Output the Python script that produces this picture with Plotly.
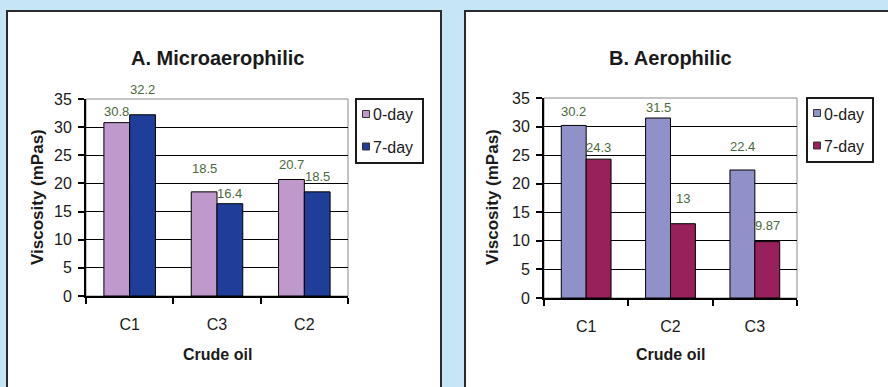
import plotly.graph_objects as go

# Viscosity of crude oils after 0 and 7 days of incubation
micro_oils = ["C1", "C3", "C2"]
micro_day0 = [30.8, 18.5, 20.7]
micro_day7 = [32.2, 16.4, 18.5]

aero_oils = ["C1", "C2", "C3"]
aero_day0 = [30.2, 31.5, 22.4]
aero_day7 = [24.3, 13, 9.87]

series_names = ["0-day", "7-day"]
y_ticks = [0, 5, 10, 15, 20, 25, 30, 35]

FONT = "Liberation Sans, Arial, sans-serif"
PAGE_BG = "#c6e5f5"
PLOT_BG = "#d4e9c6"
LABEL_COLOR = "#4a6a3c"
TEXT = "#1a1a1a"
BARGAP = 0.41
W, H = 888, 387


def px(x):
    return x / W


def py(y):
    return 1 - y / H


panels = [
    dict(title="A. Microaerophilic", oils=micro_oils, d0=micro_day0, d7=micro_day7,
         colors=["#bf98cc", "#1f3e9a"], xdom=[px(86), px(348)], ydom=[py(296), py(99)],
         lift0=[11, 23, 15], lift7=[25, 10, 15], legbox=(356, 423, 99, 163), ytitle_x=px(37)),
    dict(title="B. Aerophilic", oils=aero_oils, d0=aero_day0, d7=aero_day7,
         colors=["#9191c9", "#98205b"], xdom=[px(544), px(797)], ydom=[py(298), py(98)],
         lift0=[14, 10, 23], lift7=[12, 25, 16], legbox=(807, 873, 98, 162), ytitle_x=px(492)),
]

fig = go.Figure()
annotations = []
shapes = [
    # white chart cards
    dict(type="rect", xref="paper", yref="paper", x0=px(7), x1=px(441), y0=-0.2, y1=py(11),
         fillcolor="white", line=dict(color="#2b2b2b", width=2), layer="below"),
    dict(type="rect", xref="paper", yref="paper", x0=px(465), x1=1.2, y0=-0.2, y1=py(11),
         fillcolor="white", line=dict(color="#2b2b2b", width=2), layer="below"),
]

for k, p in enumerate(panels, start=1):
    xa = "x" if k == 1 else f"x{k}"
    ya = "y" if k == 1 else f"y{k}"
    for name, vals, color in zip(series_names, (p["d0"], p["d7"]), p["colors"]):
        fig.add_trace(go.Bar(x=p["oils"], y=vals, name=name, showlegend=False,
                             marker=dict(color=color, line=dict(color="black", width=1)),
                             xaxis=xa, yaxis=ya))

    # value labels above each bar
    half = (1 - BARGAP) / 4
    for i in range(len(p["oils"])):
        for val, shift, lift in ((p["d0"][i], -half, p["lift0"][i]), (p["d7"][i], half, p["lift7"][i])):
            annotations.append(dict(x=i + shift, y=val, xref=xa, yref=ya, text=f"{val:g}", showarrow=False,
                                    xanchor="center", yanchor="middle", yshift=lift,
                                    font=dict(family=FONT, size=13, color=LABEL_COLOR)))

    xmid = (p["xdom"][0] + p["xdom"][1]) / 2
    annotations.append(dict(x=xmid, y=py(58), xref="paper", yref="paper", text=f"<b>{p['title']}</b>",
                            xanchor="center", yanchor="middle", showarrow=False,
                            font=dict(family=FONT, size=20, color=TEXT)))
    annotations.append(dict(x=xmid, y=py(354), xref="paper", yref="paper", text="<b>Crude oil</b>",
                            xanchor="center", yanchor="middle", showarrow=False,
                            font=dict(family=FONT, size=16, color=TEXT)))
    annotations.append(dict(x=p["ytitle_x"], y=py(197), xref="paper", yref="paper",
                            text="<b>Viscosity (mPas)</b>", textangle=-90, showarrow=False,
                            xanchor="center", yanchor="middle",
                            font=dict(family=FONT, size=17, color=TEXT)))

    # plot area frame
    shapes.append(dict(type="rect", xref=f"{xa} domain", yref=f"{ya} domain", x0=0, x1=1, y0=0, y1=1,
                       line=dict(color="#8a8a8a", width=1), layer="below"))

    # legend box with a small swatch per series
    lx0, lx1, ly0, ly1 = p["legbox"]
    shapes.append(dict(type="rect", xref="paper", yref="paper", x0=px(lx0), x1=px(lx1), y0=py(ly1), y1=py(ly0),
                       fillcolor="white", line=dict(color=TEXT, width=2)))
    for j, (name, color) in enumerate(zip(series_names, p["colors"])):
        cy = ly0 + 15 + 32.5 * j
        cx = lx0 + 10
        shapes.append(dict(type="rect", xref="paper", yref="paper", x0=px(cx - 3.5), x1=px(cx + 3.5),
                           y0=py(cy + 3.5), y1=py(cy - 3.5), fillcolor=color,
                           line=dict(color="#333333", width=1)))
        annotations.append(dict(x=px(lx0 + 15), y=py(cy + 1), xref="paper", yref="paper", text=name,
                                xanchor="left", yanchor="middle", showarrow=False,
                                font=dict(family=FONT, size=16, color=TEXT)))

    fig.update_layout(**{
        ("xaxis" if k == 1 else f"xaxis{k}"): dict(
            domain=p["xdom"], anchor=ya, tickson="boundaries", ticks="outside", ticklen=6, tickwidth=2,
            tickcolor="black", showline=True, linecolor="black", linewidth=2, showgrid=False,
            ticklabelstandoff=13, tickfont=dict(family=FONT, size=16, color=TEXT)),
        ("yaxis" if k == 1 else f"yaxis{k}"): dict(
            domain=p["ydom"], anchor=xa, range=[0, 35], tickvals=y_ticks, ticks="outside", ticklen=6,
            tickwidth=2, tickcolor="black", showline=True, linecolor="black", linewidth=2, showgrid=True,
            gridcolor="black", gridwidth=1, zeroline=False, ticklabelstandoff=3,
            tickfont=dict(family=FONT, size=16, color=TEXT)),
    })

fig.update_layout(
    width=W, height=H, margin=dict(l=0, r=0, t=0, b=0, autoexpand=False),
    paper_bgcolor=PAGE_BG, plot_bgcolor=PLOT_BG,
    barmode="group", bargap=BARGAP, bargroupgap=0,
    showlegend=False, annotations=annotations, shapes=shapes,
    font=dict(family=FONT),
)

fig.write_html("out.html")
